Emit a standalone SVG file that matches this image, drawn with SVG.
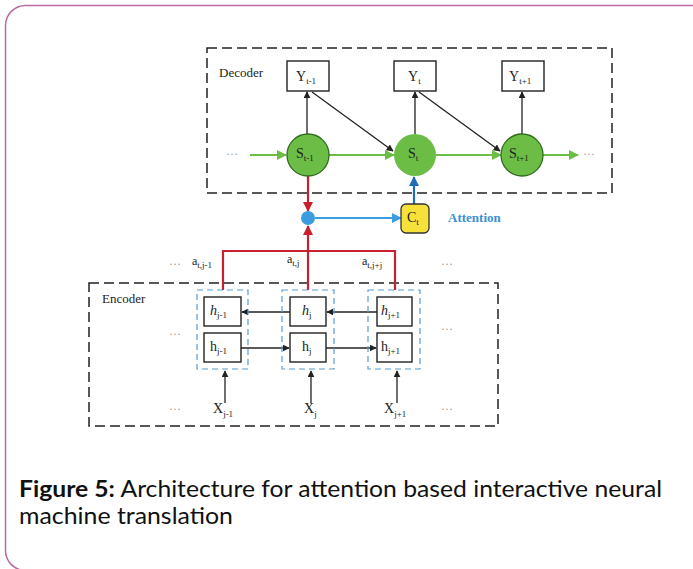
<svg xmlns="http://www.w3.org/2000/svg" width="693" height="569" viewBox="0 0 693 569">
<style>
.serif{font-family:"Liberation Serif","DejaVu Serif",serif;fill:#222}
.lbl{font-size:14px}
.sub{font-size:9px}
.dots{font-family:"Liberation Serif",serif;font-size:12px;fill:#999}
.dash{fill:none;stroke:#222;stroke-width:1.5;stroke-dasharray:10,5}
.bdash{fill:none;stroke:#5b9bd0;stroke-width:1.2;stroke-dasharray:6,4}
.box{fill:#fff;stroke:#222;stroke-width:1.4}
.blk{stroke:#222;stroke-width:1.3;fill:none}
.grn{stroke:#6cbd45;stroke-width:2;fill:none}
.red{stroke:#c8202f;stroke-width:2.2;fill:none}
.cap{font-family:Lato,"Open Sans",sans-serif;font-size:22.5px;fill:#111}
</style>
<defs>
<marker id="ab" viewBox="0 0 10 10" refX="9" refY="5" markerWidth="7" markerHeight="7" markerUnits="userSpaceOnUse" orient="auto"><path d="M0,0 L10,5 L0,10 z" fill="#222"/></marker>
<marker id="ag" viewBox="0 0 10 10" refX="9" refY="5" markerWidth="10" markerHeight="10" markerUnits="userSpaceOnUse" orient="auto"><path d="M0,0 L10,5 L0,10 z" fill="#6cbd45"/></marker>
<marker id="ar" viewBox="0 0 10 10" refX="9" refY="5" markerWidth="10" markerHeight="10" markerUnits="userSpaceOnUse" orient="auto"><path d="M0,0 L10,5 L0,10 z" fill="#c8202f"/></marker>
<marker id="abl" viewBox="0 0 10 10" refX="9" refY="5" markerWidth="10" markerHeight="10" markerUnits="userSpaceOnUse" orient="auto"><path d="M0,0 L10,5 L0,10 z" fill="#3b9de0"/></marker>
<marker id="adb" viewBox="0 0 10 10" refX="9" refY="5" markerWidth="10" markerHeight="10" markerUnits="userSpaceOnUse" orient="auto"><path d="M0,0 L10,5 L0,10 z" fill="#1f6bb5"/></marker>
</defs>
<rect x="0" y="0" width="693" height="569" fill="#fff"/>
<rect x="5.5" y="5.5" width="712" height="565" rx="20" fill="none" stroke="#b96a9f" stroke-width="1.5"/>

<!-- containers -->
<rect id="decoder" class="dash" x="207" y="48" width="405" height="145"/>
<text class="serif" x="219" y="77" font-size="13">Decoder</text>
<rect id="encoder" class="dash" x="89" y="283" width="409" height="143"/>
<text class="serif" x="102" y="303" font-size="13">Encoder</text>

<!-- connectors -->
<g id="connectors">
<line class="blk" x1="307" y1="134" x2="307" y2="92" marker-end="url(#ab)"/>
<line class="blk" x1="415" y1="134" x2="415" y2="92" marker-end="url(#ab)"/>
<line class="blk" x1="522" y1="134" x2="522" y2="92" marker-end="url(#ab)"/>
<line class="blk" x1="312" y1="92" x2="393" y2="151" marker-end="url(#ab)"/>
<line class="blk" x1="419" y1="92" x2="500" y2="151" marker-end="url(#ab)"/>
<line class="grn" x1="250" y1="155" x2="286" y2="155" marker-end="url(#ag)"/>
<line class="grn" x1="329" y1="155" x2="394" y2="155" marker-end="url(#ag)"/>
<line class="grn" x1="436" y1="155" x2="501" y2="155" marker-end="url(#ag)"/>
<line class="grn" x1="543" y1="155" x2="578" y2="155" marker-end="url(#ag)"/>
<line class="red" x1="308" y1="176" x2="308" y2="211" marker-end="url(#ar)"/>
<line x1="315" y1="218" x2="401" y2="218" stroke="#3b9de0" stroke-width="2" marker-end="url(#abl)"/>
<line x1="414" y1="204" x2="414" y2="177" stroke="#1f6bb5" stroke-width="2.2" marker-end="url(#adb)"/>
<polyline class="red" points="223,290 223,251 395,251 395,290"/>
<line class="red" x1="308" y1="290" x2="308" y2="226" marker-end="url(#ar)"/>
<line class="blk" x1="290" y1="312" x2="242" y2="312" marker-end="url(#ab)"/>
<line class="blk" x1="377" y1="312" x2="327" y2="312" marker-end="url(#ab)"/>
<line class="blk" x1="241" y1="348" x2="289" y2="348" marker-end="url(#ab)"/>
<line class="blk" x1="326" y1="348" x2="376" y2="348" marker-end="url(#ab)"/>
<line class="blk" x1="225" y1="403" x2="225" y2="371" stroke-width="1.6" marker-end="url(#ab)"/>
<line class="blk" x1="311" y1="403" x2="311" y2="371" stroke-width="1.6" marker-end="url(#ab)"/>
<line class="blk" x1="397" y1="403" x2="397" y2="371" stroke-width="1.6" marker-end="url(#ab)"/>
</g>

<!-- decoder nodes -->
<g id="y_tm1"><rect class="box" x="287" y="61" width="42" height="30"/><text class="serif lbl" x="296" y="81">Y<tspan class="sub" dy="3">t-1</tspan></text></g>
<g id="y_t"><rect class="box" x="394" y="61" width="42" height="30"/><text class="serif lbl" x="408" y="81">Y<tspan class="sub" dy="3">t</tspan></text></g>
<g id="y_tp1"><rect class="box" x="502" y="61" width="42" height="30"/><text class="serif lbl" x="509" y="81">Y<tspan class="sub" dy="3">t+1</tspan></text></g>
<g id="s_tm1"><circle cx="308" cy="155" r="21" fill="#6cbd45" stroke="#2f6b1e" stroke-width="1.3"/><text class="serif lbl" x="296" y="158">S<tspan class="sub" dy="3">t-1</tspan></text></g>
<g id="s_t"><circle cx="415" cy="155" r="21" fill="#6cbd45"/><text class="serif lbl" x="408" y="158">S<tspan class="sub" dy="3">t</tspan></text></g>
<g id="s_tp1"><circle cx="522" cy="155" r="21" fill="#6cbd45" stroke="#2f6b1e" stroke-width="1.3"/><text class="serif lbl" x="509" y="158">S<tspan class="sub" dy="3">t+1</tspan></text></g>
<text class="dots" x="226" y="158">···</text>
<text class="dots" x="583" y="158">···</text>

<!-- attention -->
<g id="attn_dot"><circle cx="308" cy="218" r="7" fill="#3b9de0"/></g>
<g id="c_t"><rect x="401" y="204" width="28" height="29" rx="5" fill="#f6e13a" stroke="#333" stroke-width="1.3"/><text class="serif lbl" x="407" y="222">C<tspan class="sub" dy="3">t</tspan></text></g>
<text x="448" y="222" font-family="Liberation Serif,serif" font-weight="bold" font-size="13" fill="#3b8fd6">Attention</text>

<text class="serif" x="192" y="265" font-size="12">a<tspan class="sub" dy="3">t,j-1</tspan></text>
<text class="serif" x="287" y="263" font-size="12">a<tspan class="sub" dy="3">t,j</tspan></text>
<text class="serif" x="362" y="265" font-size="12">a<tspan class="sub" dy="3">t,j+j</tspan></text>
<text class="dots" x="169" y="268">···</text>
<text class="dots" x="441" y="268">···</text>

<!-- encoder nodes -->
<rect class="bdash" x="197" y="290" width="51" height="79"/>
<rect class="bdash" x="282" y="290" width="52" height="79"/>
<rect class="bdash" x="368" y="290" width="52" height="79"/>
<g id="hb_jm1"><rect class="box" x="204" y="297" width="37" height="29"/><text class="serif lbl" x="210" y="315"><tspan font-style="italic">h</tspan><tspan class="sub" dy="3">j-1</tspan></text></g>
<g id="hb_j"><rect class="box" x="290" y="297" width="36" height="29"/><text class="serif lbl" x="302" y="315"><tspan font-style="italic">h</tspan><tspan class="sub" dy="3">j</tspan></text></g>
<g id="hb_jp1"><rect class="box" x="377" y="297" width="35" height="29"/><text class="serif lbl" x="381" y="315"><tspan font-style="italic">h</tspan><tspan class="sub" dy="3">j+1</tspan></text></g>
<g id="hf_jm1"><rect class="box" x="204" y="333" width="37" height="29"/><text class="serif lbl" x="210" y="351">h<tspan class="sub" dy="3">j-1</tspan></text></g>
<g id="hf_j"><rect class="box" x="290" y="333" width="36" height="29"/><text class="serif lbl" x="302" y="351">h<tspan class="sub" dy="3">j</tspan></text></g>
<g id="hf_jp1"><rect class="box" x="377" y="333" width="35" height="29"/><text class="serif lbl" x="381" y="351">h<tspan class="sub" dy="3">j+1</tspan></text></g>
<g id="x_jm1"><text class="serif lbl" x="213" y="413">X<tspan class="sub" dy="4">j-1</tspan></text></g>
<g id="x_j"><text class="serif lbl" x="304" y="413">X<tspan class="sub" dy="4">j</tspan></text></g>
<g id="x_jp1"><text class="serif lbl" x="384" y="413">X<tspan class="sub" dy="4">j+1</tspan></text></g>
<text class="dots" x="169" y="338">···</text>
<text class="dots" x="441" y="333">···</text>
<text class="dots" x="169" y="413">···</text>
<text class="dots" x="441" y="413">···</text>

<!-- caption -->
<text class="cap" x="19" y="497" textLength="643" lengthAdjust="spacingAndGlyphs"><tspan font-weight="bold">Figure 5:</tspan> Architecture for attention based interactive neural</text>
<text class="cap" x="19" y="524" textLength="214" lengthAdjust="spacingAndGlyphs">machine translation</text>
</svg>
